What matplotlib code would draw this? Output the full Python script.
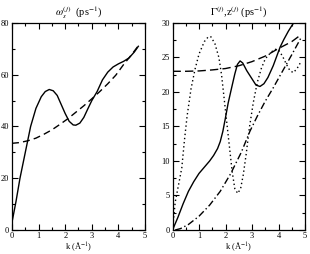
import matplotlib
matplotlib.use("Agg")
import matplotlib.pyplot as plt
from matplotlib.ticker import MultipleLocator

plt.rcParams['font.family'] = ['Liberation Serif', 'DejaVu Serif']
plt.rcParams['mathtext.fontset'] = 'stix'

# Left panel: omega_s
w_solid_k = [0, 0.15, 0.3, 0.5, 0.7, 0.9, 1.1, 1.25, 1.4, 1.55, 1.7, 1.85, 2.0, 2.15, 2.3, 2.4,
             2.55, 2.7, 2.85, 3.0, 3.2, 3.4, 3.6, 3.8, 4.0, 4.2, 4.4, 4.6, 4.75]
w_solid_v = [3, 11, 20, 30, 40, 47, 51.5, 53.5, 54.3, 53.8, 52, 48.5, 45, 42, 40.6, 40.5,
             41.3, 43.5, 46.8, 50, 53.5, 58, 61, 63, 64.2, 65.2, 66.5, 68.8, 71]
w_dash_k = [0, 0.3, 0.6, 0.9, 1.2, 1.5, 1.8, 2.1, 2.4, 2.7, 3.0, 3.3, 3.6, 3.9, 4.2, 4.5, 4.75]
w_dash_v = [33.5, 33.8, 34.5, 35.5, 37, 38.7, 40.8, 43, 45.5, 48, 50.7, 53.5, 56.5, 59.8, 64.0, 67.8, 71.2]

# Right panel: Gamma, z
g_solid_k = [0, 0.2, 0.4, 0.6, 0.8, 1.0, 1.2, 1.4, 1.55, 1.7, 1.8, 1.9, 2.0, 2.1, 2.23, 2.35,
             2.45, 2.55, 2.65, 2.8, 3.0, 3.15, 3.3, 3.45, 3.6, 3.8, 4.06, 4.2, 4.37, 4.5, 4.62]
g_solid_v = [0, 1.8, 3.8, 5.6, 7.0, 8.2, 9.1, 10.0, 10.8, 11.8, 12.8, 14.3, 16.3, 18.4, 20.6, 22.6,
             24.0, 24.5, 24.2, 23.1, 21.9, 21.0, 20.8, 21.2, 22.1, 23.8, 26.5, 27.6, 28.8, 29.6, 30.3]
g_dash_k = [0, 0.5, 1.0, 1.5, 2.0, 2.5, 3.0, 3.5, 4.0, 4.5, 4.85]
g_dash_v = [23.0, 23.0, 23.05, 23.2, 23.4, 23.8, 24.4, 25.2, 26.3, 27.3, 28.3]
g_dot_k = [0, 0.1, 0.2, 0.35, 0.45, 0.55, 0.7, 0.85, 1.0, 1.2, 1.35, 1.45, 1.6, 1.75, 1.85, 1.95,
           2.05, 2.15, 2.25, 2.35, 2.46, 2.57, 2.67, 2.78, 2.9, 3.05, 3.2, 3.35, 3.5, 3.68, 3.85,
           4.0, 4.15, 4.3, 4.43, 4.56, 4.7, 4.85]
g_dot_v = [0, 4, 6, 9, 13, 16.5, 20.5, 23.3, 25.5, 27.3, 28.0, 28.0, 27.0, 25, 22.5, 19,
           15.5, 12, 8.5, 6, 5.3, 6, 8, 11, 14.8, 18.5, 21.4, 23.4, 24.8, 25.6, 26.2,
           26.1, 25.2, 24.0, 23.1, 22.8, 23.4, 24.4]
g_dd_k = [0.1, 0.3, 0.6, 1.0, 1.4, 1.8, 2.2, 2.6, 2.92, 3.2, 3.49, 3.8, 4.12, 4.5, 4.87]
g_dd_v = [0, 0.2, 0.8, 2.0, 3.6, 5.6, 8.2, 11.3, 14.3, 16.5, 18.6, 20.6, 22.8, 25.4, 28.0]

fig = plt.figure(figsize=(3.1, 2.54), dpi=100)
ax1 = fig.add_axes([0.0387, 0.0945, 0.429, 0.815])
ax2 = fig.add_axes([0.5565, 0.0945, 0.4274, 0.815])

lw = 1.0
ax1.plot(w_solid_k, w_solid_v, color='black', lw=lw)
ax1.plot(w_dash_k, w_dash_v, color='black', lw=lw, dashes=(5, 3))
ax2.plot(g_solid_k, g_solid_v, color='black', lw=lw)
ax2.plot(g_dash_k, g_dash_v, color='black', lw=lw, dashes=(6, 3))
ax2.plot(g_dot_k, g_dot_v, color='black', lw=lw, dashes=(1, 2))
ax2.plot(g_dd_k, g_dd_v, color='black', lw=lw, dashes=(5, 2, 1, 2))

ax1.set_xlim(0, 5)
ax1.set_ylim(0, 80)
ax2.set_xlim(0, 5)
ax2.set_ylim(0, 30)

ax1.xaxis.set_major_locator(MultipleLocator(1))
ax1.xaxis.set_minor_locator(MultipleLocator(0.5))
ax1.yaxis.set_major_locator(MultipleLocator(20))
ax1.yaxis.set_minor_locator(MultipleLocator(10))
ax2.xaxis.set_major_locator(MultipleLocator(1))
ax2.xaxis.set_minor_locator(MultipleLocator(0.5))
ax2.yaxis.set_major_locator(MultipleLocator(5))
ax2.yaxis.set_minor_locator(MultipleLocator(2.5))

for ax in (ax1, ax2):
    ax.tick_params(which='both', direction='in', top=True, right=True, labelsize=6, width=0.8)
    ax.tick_params(axis='x', pad=1.5)
    ax.tick_params(axis='y', pad=2)
    ax.tick_params(which='major', length=4)
    ax.tick_params(which='minor', length=2)
    for s in ax.spines.values():
        s.set_linewidth(0.9)
    ax.set_xlabel('k (Å$^{-1}$)', fontsize=6, labelpad=0)

ax1.set_title(r'$\omega_s^{(j)}$  (ps$^{-1}$)', fontsize=7.5, pad=5)
ax2.set_title(r'$\Gamma^{(j)}$,z$^{(j)}$ (ps$^{-1}$)', fontsize=7.5, pad=5)

fig.savefig('out.png', dpi=100)
